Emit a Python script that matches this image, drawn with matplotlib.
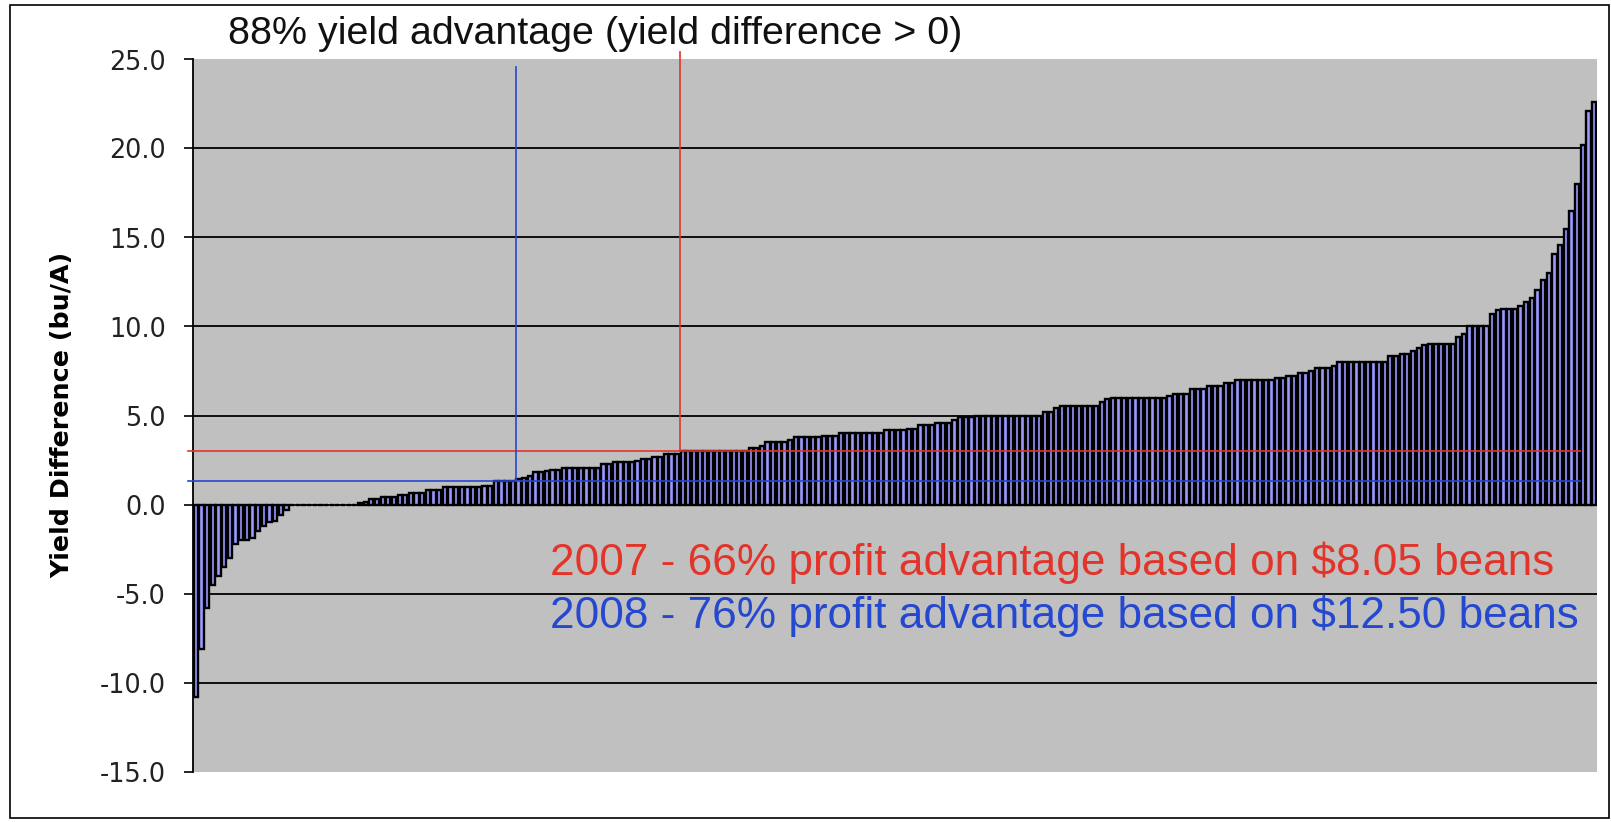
import matplotlib
matplotlib.use("Agg")
import matplotlib.pyplot as plt
from matplotlib.patches import Rectangle

# ---------------- data ----------------
yield_difference = [
    -10.8, -8.1, -5.8, -4.5, -4.0, -3.5, -3.0, -2.2, -2.0, -2.0, -1.9, -1.5, -1.2, -1.0, -0.9, -0.6, -0.3,
    0.0, 0.0, 0.0, 0.0, 0.0, 0.0, 0.0, 0.0, 0.0, 0.0, 0.0, 0.0,
    0.1, 0.15, 0.3, 0.3, 0.4, 0.4, 0.4, 0.55, 0.55, 0.65, 0.65, 0.65, 0.8, 0.8, 0.8,
    1.0, 1.0, 1.0, 1.0, 1.0, 1.0, 1.0, 1.05, 1.05,
    1.3, 1.3, 1.3, 1.3,
    1.45, 1.5, 1.6, 1.85, 1.85, 1.9, 1.95, 1.95,
    2.05, 2.05, 2.05, 2.05, 2.05, 2.05, 2.05, 2.25, 2.25, 2.4, 2.4, 2.4, 2.4, 2.45,
    2.55, 2.55, 2.65, 2.65, 2.85, 2.85, 2.85,
    3.0, 3.0, 3.0, 3.0, 3.0, 3.0, 3.0, 3.0, 3.0, 3.0, 3.0, 3.0,
    3.15, 3.15, 3.3, 3.5, 3.5, 3.5, 3.5, 3.6, 3.8, 3.8, 3.8, 3.8, 3.8, 3.85, 3.85, 3.85,
    4.0, 4.0, 4.0, 4.0, 4.0, 4.0, 4.0, 4.0, 4.2, 4.2, 4.2, 4.2, 4.25, 4.25,
    4.45, 4.45, 4.45, 4.6, 4.6, 4.6, 4.75, 4.9, 4.9, 4.9,
    5.0, 5.0, 5.0, 5.0, 5.0, 5.0, 5.0, 5.0, 5.0, 5.0, 5.0, 5.0,
    5.2, 5.2, 5.4, 5.55, 5.55, 5.55, 5.55, 5.55, 5.55, 5.55, 5.75, 5.9,
    6.0, 6.0, 6.0, 6.0, 6.0, 6.0, 6.0, 6.0, 6.0, 6.0, 6.1, 6.2, 6.2, 6.2,
    6.5, 6.5, 6.5, 6.65, 6.65, 6.65, 6.8, 6.8,
    7.0, 7.0, 7.0, 7.0, 7.0, 7.0, 7.0, 7.1, 7.1, 7.2, 7.2, 7.4, 7.4, 7.5, 7.65, 7.65, 7.65, 7.8,
    8.0, 8.0, 8.0, 8.0, 8.0, 8.0, 8.0, 8.0, 8.0, 8.35, 8.35, 8.45, 8.45, 8.65, 8.8, 8.95,
    9.0, 9.0, 9.0, 9.0, 9.0, 9.4, 9.6,
    10.0, 10.0, 10.0, 10.0, 10.7, 10.9, 11.0, 11.0, 11.0, 11.15, 11.4, 11.6,
    12.05, 12.6, 13.0, 14.1, 14.6, 15.5, 16.5, 18.0, 20.2, 22.1, 22.6,
]

y_ticks = [-15.0, -10.0, -5.0, 0.0, 5.0, 10.0, 15.0, 20.0, 25.0]
breakeven_2007 = 3.0   # bu/A needed at $8.05 beans
breakeven_2008 = 1.3   # bu/A needed at $12.50 beans

title_text = "88% yield advantage (yield difference > 0)"
y_label = "Yield Difference (bu/A)"
note_2007 = "2007 - 66% profit advantage based on $8.05 beans"
note_2008 = "2008 - 76% profit advantage based on $12.50 beans"

# ---------------- styling ----------------
RED = "#e3342a"
BLUE = "#2448d0"
BAR_FILL = "#9999ff"
PLOT_BG = "#c0c0c0"
FONT = ["Liberation Sans", "DejaVu Sans"]
WIDE = ["DejaVu Sans"]
plt.rcParams["font.family"] = FONT

W, H = 1611, 822
fig = plt.figure(figsize=(W / 100, H / 100), dpi=100)
fig.patch.set_facecolor("white")

left, right, top, bottom = 193, 1597, 59.5, 771.5
ax = fig.add_axes([left / W, 1 - bottom / H, (right - left) / W, (bottom - top) / H])
ax.set_facecolor(PLOT_BG)

n = len(yield_difference)
x = list(range(n))
ax.bar(x, yield_difference, width=0.75, color=BAR_FILL, edgecolor="black",
       linewidth=1.7, zorder=3)

ax.set_xlim(-0.5, n - 0.5)
ax.set_ylim(y_ticks[0], y_ticks[-1])

# gridlines (interior) and zero axis
for t in y_ticks[1:-1]:
    ax.axhline(t, color="black", linewidth=1.3, zorder=1 if t != 0 else 4)

ax.set_yticks(y_ticks)
ax.set_yticklabels([f"{t:.1f}" for t in y_ticks], fontsize=18.4, color="#222222",
                   family=WIDE)
ax.tick_params(axis="y", direction="out", length=6.5, width=1.2, pad=13)
ax.set_xticks([])
for s in ["top", "right", "bottom"]:
    ax.spines[s].set_visible(False)
ax.spines["left"].set_linewidth(1.3)
ax.spines["left"].set_zorder(5)

fig.text(62 / W, 1 - 415 / H, y_label, fontsize=18.3, fontweight="bold", family=WIDE,
         rotation=90, ha="center", va="center")

# break-even reference lines
n_below_2008 = sum(1 for v in yield_difference if v <= breakeven_2008)
n_below_2007 = sum(1 for v in yield_difference if v < breakeven_2007)
h_left, h_right = -1.4, n - 3.5
ax.plot([h_left, h_right], [breakeven_2007, breakeven_2007], color=RED, lw=1.2,
        zorder=6, clip_on=False)
ax.plot([h_left, h_right], [breakeven_2008, breakeven_2008], color=BLUE, lw=1.2,
        zorder=6, clip_on=False)
ax.plot([n_below_2007 - 0.5] * 2, [breakeven_2007, 25.4], color=RED, lw=1.2,
        zorder=6, clip_on=False)
ax.plot([n_below_2008 - 0.5] * 2, [breakeven_2008, 24.6], color=BLUE, lw=1.2,
        zorder=6, clip_on=False)

# texts
fig.text(228 / W, 1 - 34 / H, title_text, fontsize=28.4, va="center", ha="left", color="#111111")
fig.text(550 / W, 1 - 563 / H, note_2007, fontsize=31.8, va="center", ha="left", color=RED)
fig.text(550 / W, 1 - 616 / H, note_2008, fontsize=31.8, va="center", ha="left", color=BLUE)

# outer frame
fig.patches.append(Rectangle((10 / W, 1 - 818 / H), (1609 - 10) / W, (818 - 5) / H,
                             transform=fig.transFigure, fill=False, edgecolor="black",
                             linewidth=1.2))

fig.savefig("out.png", dpi=100)
